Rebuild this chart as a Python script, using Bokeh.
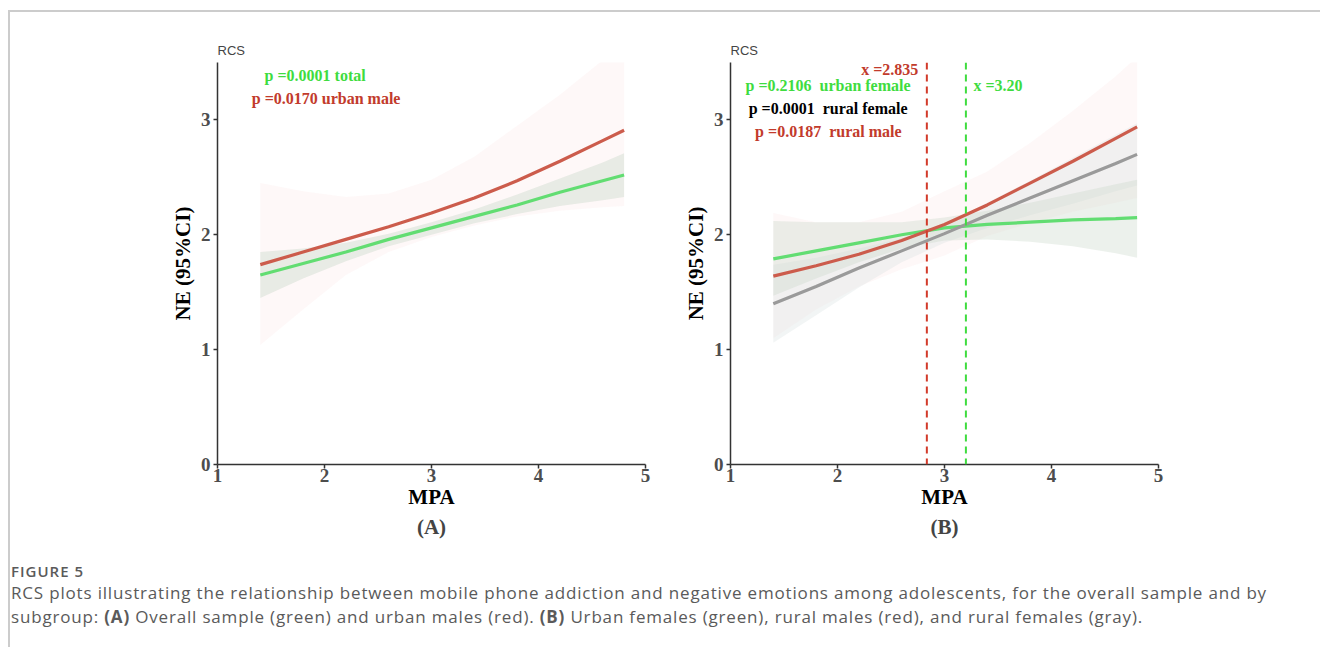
from bokeh.plotting import figure
from bokeh.models import Label, Span, Title, Div, FixedTicker, Range1d
from bokeh.layouts import row, column
from bokeh.embed import file_html
from bokeh.resources import INLINE

# ---------------- data ----------------
mpa = [1.4, 1.8, 2.2, 2.6, 3.0, 3.4, 3.8, 4.2, 4.6, 4.8]

# Panel A
total = [1.65, 1.75, 1.85, 1.96, 2.06, 2.16, 2.26, 2.37, 2.47, 2.52]
total_lo = [1.45, 1.62, 1.77, 1.90, 2.00, 2.10, 2.18, 2.25, 2.30, 2.33]
total_hi = [1.85, 1.88, 1.93, 2.01, 2.11, 2.22, 2.35, 2.49, 2.63, 2.71]
urban_male = [1.74, 1.85, 1.96, 2.07, 2.19, 2.32, 2.47, 2.64, 2.82, 2.91]
urban_male_lo = [1.04, 1.35, 1.65, 1.85, 1.98, 2.08, 2.16, 2.21, 2.24, 2.25]
urban_male_hi = [2.45, 2.38, 2.33, 2.36, 2.48, 2.68, 2.95, 3.22, 3.52, 3.65]

# Panel B
urban_female = [1.79, 1.86, 1.93, 2.00, 2.06, 2.09, 2.11, 2.13, 2.14, 2.15]
urban_female_lo = [1.47, 1.62, 1.76, 1.88, 1.95, 1.96, 1.94, 1.90, 1.84, 1.80]
urban_female_hi = [2.12, 2.11, 2.11, 2.11, 2.15, 2.21, 2.28, 2.36, 2.44, 2.48]
rural_female = [1.40, 1.55, 1.71, 1.86, 2.01, 2.17, 2.32, 2.47, 2.62, 2.70]
rural_female_lo = [1.06, 1.30, 1.54, 1.76, 1.93, 2.06, 2.17, 2.27, 2.38, 2.43]
rural_female_hi = [1.74, 1.80, 1.88, 1.97, 2.09, 2.28, 2.47, 2.67, 2.87, 2.97]
rural_male = [1.64, 1.73, 1.83, 1.95, 2.09, 2.26, 2.45, 2.64, 2.84, 2.94]
rural_male_lo = [1.10, 1.35, 1.55, 1.70, 1.82, 1.99, 2.10, 2.20, 2.28, 2.32]
rural_male_hi = [2.19, 2.11, 2.11, 2.20, 2.38, 2.55, 2.80, 3.08, 3.38, 3.55]

cut_red = 2.835
cut_green = 3.20

x_ticks = [1, 2, 3, 4, 5]
y_ticks = [0, 1, 2, 3]

# ---------------- styles ----------------
SERIF = "Liberation Serif"
GREEN = "#62dd72"
RED = "#cc5c4c"
GRAY = "#9a9a9a"
TXT_GREEN = "#3fdc3f"
TXT_RED = "#c23b2c"
BAND_GREEN = "#c9d6c9"
BAND_RED = "#f7d6d6"
BAND_GRAY = "#d3dede"
NB = "\u00a0"


def base_fig(width, left, right, tag):
    p = figure(width=width, height=540, output_backend="svg", toolbar_location=None,
               x_range=Range1d(1, 5), y_range=Range1d(0, 3.5),
               min_border_left=left, min_border_right=right,
               min_border_top=50, min_border_bottom=88,
               x_axis_label="MPA", y_axis_label="NE (95%CI)")
    p.outline_line_color = None
    p.grid.visible = False
    p.background_fill_color = "white"
    p.border_fill_color = "white"
    p.title.text = "RCS"
    p.title.text_font = "Liberation Sans"
    p.title.text_font_size = "13px"
    p.title.text_font_style = "normal"
    p.title.align = "left"
    p.title.standoff = 9
    p.xaxis.ticker = FixedTicker(ticks=x_ticks)
    p.yaxis.ticker = FixedTicker(ticks=y_ticks)
    for ax in (p.xaxis[0], p.yaxis[0]):
        ax.axis_line_color = "#333333"
        ax.axis_line_width = 1.5
        ax.major_tick_line_color = "#333333"
        ax.major_tick_line_width = 1.5
        ax.major_tick_in = 0
        ax.major_tick_out = 4
        ax.minor_tick_line_color = None
        ax.major_label_text_font = SERIF
        ax.major_label_text_font_style = "bold"
        ax.major_label_text_font_size = "19px"
        ax.major_label_text_color = "#4d4d4d"
        ax.axis_label_text_font = SERIF
        ax.axis_label_text_font_style = "bold"
        ax.axis_label_text_font_size = "21px"
        ax.axis_label_text_color = "black"
    p.xaxis.major_label_standoff = 0
    p.xaxis.axis_label_standoff = 0
    p.yaxis.major_label_standoff = 3
    p.yaxis.axis_label_standoff = 3
    t = Title(text=tag, align="center", text_font=SERIF, text_font_style="bold",
              text_font_size="21px", standoff=3)
    p.add_layout(t, "below")
    return p


def band(p, lo, hi, color, alpha):
    p.varea(x=mpa, y1=lo, y2=hi, fill_color=color, fill_alpha=alpha)


def lab(p, x, y, text, color, align="left"):
    p.add_layout(Label(x=x, y=y, text=text, text_color=color, text_font=SERIF,
                       text_font_style="bold", text_font_size="16px",
                       text_align=align, text_baseline="middle"))


# ---------------- panel A ----------------
pa = base_fig(670, 207, 35, "(A)")
band(pa, urban_male_lo, urban_male_hi, BAND_RED, 0.18)
band(pa, total_lo, total_hi, BAND_GREEN, 0.4)
pa.line(mpa, total, line_color=GREEN, line_width=3.2)
pa.line(mpa, urban_male, line_color=RED, line_width=3.2)
lab(pa, 1.44, 3.39, "p =0.0001 total", TXT_GREEN)
lab(pa, 1.32, 3.19, "p =0.0170 urban male", TXT_RED)

# ---------------- panel B ----------------
pb = base_fig(622, 43, 144, "(B)")
band(pb, rural_male_lo, rural_male_hi, BAND_RED, 0.18)
band(pb, rural_female_lo, rural_female_hi, BAND_GRAY, 0.3)
band(pb, urban_female_lo, urban_female_hi, BAND_GREEN, 0.35)
pb.line(mpa, urban_female, line_color=GREEN, line_width=3.2)
pb.line(mpa, rural_male, line_color=RED, line_width=3.2)
pb.line(mpa, rural_female, line_color=GRAY, line_width=3.2)
pb.add_layout(Span(location=cut_red, dimension="height", line_color="#d23a2a",
                   line_width=2, line_dash="7 5"))
pb.add_layout(Span(location=cut_green, dimension="height", line_color="#3fdc3f",
                   line_width=2, line_dash="7 5"))
lab(pb, cut_red - 0.08, 3.44, "x =" + f"{cut_red:.3f}", TXT_RED, align="right")
lab(pb, cut_green + 0.07, 3.30, "x =" + f"{cut_green:.2f}", TXT_GREEN)
lab(pb, 1.14, 3.30, "p =0.2106" + NB + NB + "urban female", TXT_GREEN)
lab(pb, 1.17, 3.10, "p =0.0001" + NB + NB + "rural female", "black")
lab(pb, 1.23, 2.90, "p =0.0187" + NB + NB + "rural male", TXT_RED)

# ---------------- caption ----------------
cap = Div(width=1300, height=86, text=(
    '<div style="font-family:\'Open Sans\';color:#5a5a5a;margin-left:-4px;margin-top:4px;">'
    '<div style="font-size:15px;line-height:20px;font-weight:600;letter-spacing:1px;">FIGURE 5</div>'
    '<div style="font-size:17px;line-height:24px;white-space:nowrap;letter-spacing:0.82px;">'
    'RCS plots illustrating the relationship between mobile phone addiction and negative emotions '
    'among adolescents, for the overall sample and by<br>subgroup: <b>(A)</b> Overall sample (green) '
    'and urban males (red). <b>(B)</b> Urban females (green), rural males (red), and rural females (gray).'
    '</div></div>'))

layout = column(row(pa, pb, spacing=0), cap, spacing=0,
                styles={"border-top": "2px solid #cccccc", "border-left": "2px solid #cccccc",
                        "margin-top": "10px", "margin-left": "8px"})

open("out.html", "w").write(file_html(layout, INLINE))
